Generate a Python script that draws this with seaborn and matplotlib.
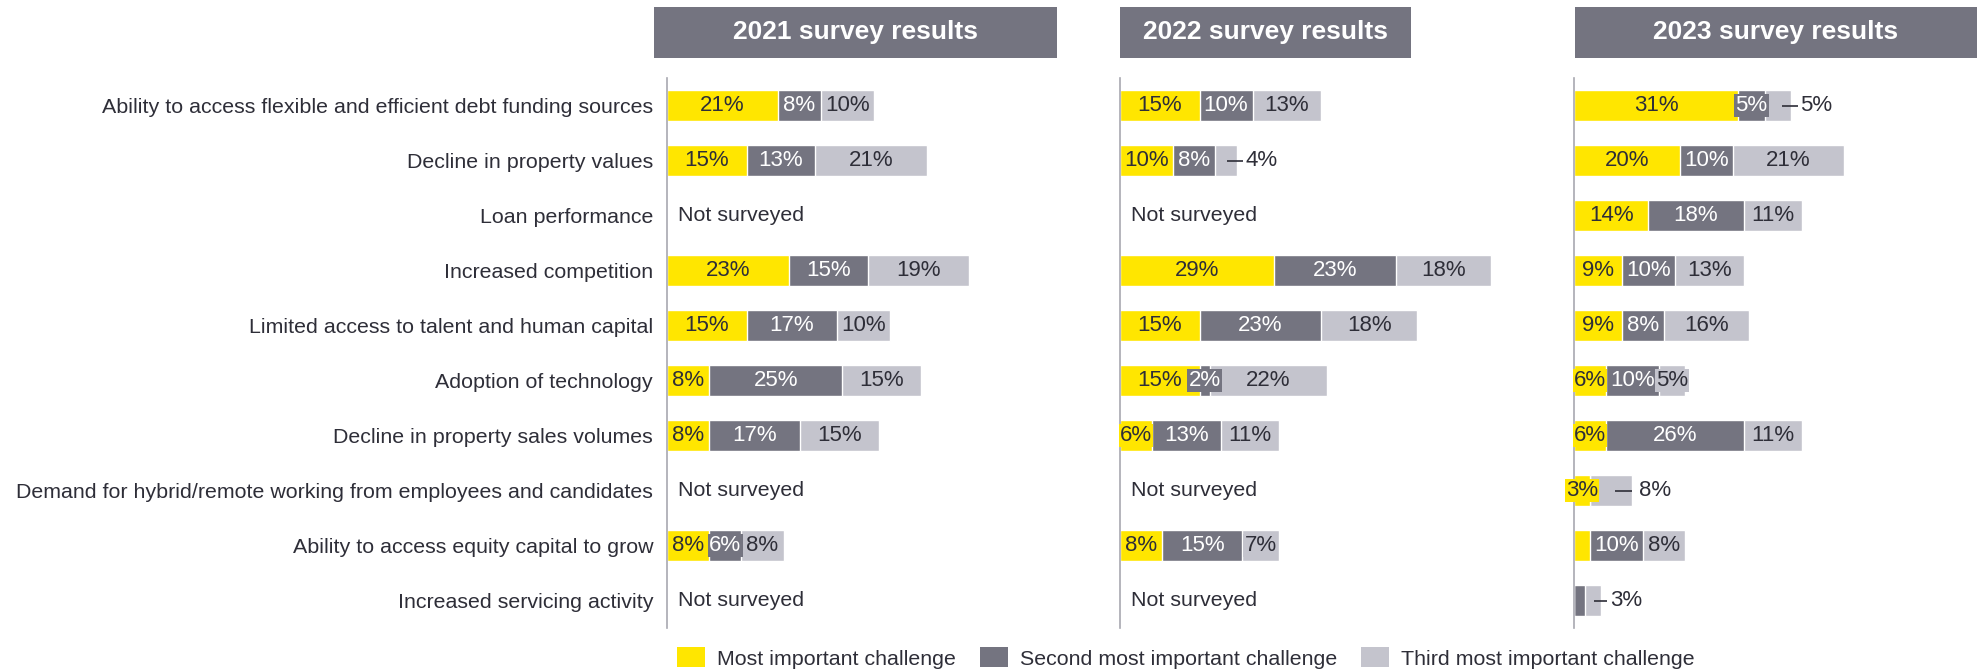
import numpy as np
import pandas as pd
import matplotlib
matplotlib.use("Agg")
import matplotlib.pyplot as plt
import seaborn as sns
from matplotlib.patches import Patch, Rectangle

# data
categories = [
    "Ability to access flexible and efficient debt funding sources",
    "Decline in property values",
    "Loan performance",
    "Increased competition",
    "Limited access to talent and human capital",
    "Adoption of technology",
    "Decline in property sales volumes",
    "Demand for hybrid/remote working from employees and candidates",
    "Ability to access equity capital to grow",
    "Increased servicing activity",
]
years = ["2021", "2022", "2023"]
series = ["Most important challenge", "Second most important challenge",
          "Third most important challenge"]

nan = np.nan
most_2021 = [21, 15, nan, 23, 15, 8, 8, nan, 8, nan]
second_2021 = [8, 13, nan, 15, 17, 25, 17, nan, 6, nan]
third_2021 = [10, 21, nan, 19, 10, 15, 15, nan, 8, nan]

most_2022 = [15, 10, nan, 29, 15, 15, 6, nan, 8, nan]
second_2022 = [10, 8, nan, 23, 23, 2, 13, nan, 15, nan]
third_2022 = [13, 4, nan, 18, 18, 22, 11, nan, 7, nan]

most_2023 = [31, 20, 14, 9, 9, 6, 6, 3, 3, 0]
second_2023 = [5, 10, 18, 10, 8, 10, 26, 0, 10, 2]
third_2023 = [5, 21, 11, 13, 16, 5, 11, 8, 8, 3]

values = {
    "2021": [most_2021, second_2021, third_2021],
    "2022": [most_2022, second_2022, third_2022],
    "2023": [most_2023, second_2023, third_2023],
}

# labels drawn outside with a leader line (line start, line end, text offset)
outside_labels = {
    ("2022", 1, 2): (-1.8, 1.3, 1.7),
    ("2023", 0, 2): (-1.8, 1.3, 1.7),
    ("2023", 7, 2): (-3.2, 0.0, 1.3),
    ("2023", 9, 2): (-1.2, 1.3, 1.9),
}
hidden_labels = {("2023", 8, 0), ("2023", 9, 1)}

colors = ["#FFE600", "#747480", "#C4C4CD"]
label_colors = ["#2E2E38", "#FFFFFF", "#2E2E38"]
text_dark = "#2E2E38"

rows = []
for year in years:
    for i, cat in enumerate(categories):
        cum = 0
        for s, name in enumerate(series):
            v = values[year][s][i]
            if np.isnan(v):
                continue
            cum += v
            rows.append(dict(year=year, category=cat, row=i, series=s,
                             value=v, cum=cum))
df = pd.DataFrame(rows)

sns.set_style("white")
plt.rcParams["font.family"] = ["Liberation Sans", "DejaVu Sans"]

W, H = 1980, 670
fig = plt.figure(figsize=(W / 100, H / 100), dpi=100)

px_per_pct = 5.3
panel_left = {"2021": 667, "2022": 1120, "2023": 1574}
panel_right = {"2021": 1110, "2022": 1565, "2023": 1980}
header_span = {"2021": (654, 1057), "2022": (1120, 1411), "2023": (1575, 1977)}
ax_top, ax_bottom = 78, 628

for year in years:
    left = panel_left[year]
    width = panel_right[year] - left
    ax = fig.add_axes([left / W, 1 - ax_bottom / H, width / W,
                       (ax_bottom - ax_top) / H])
    ax.patch.set_alpha(0)
    d = df[df.year == year]

    # stacked bars: draw cumulative totals back to front
    for s in [2, 1, 0]:
        ds = d[d.series == s]
        sns.barplot(data=ds, y="category", x="cum", order=categories,
                    color=colors[s], saturation=1, width=0.56,
                    orient="h", errorbar=None, ax=ax)

    for _, r in d.iterrows():
        i, s, v = r["row"], r["series"], r["value"]
        if v <= 0 or (year, i, s) in hidden_labels:
            continue
        if (year, i, s) in outside_labels:
            a, b, t = outside_labels[(year, i, s)]
            ax.plot([r["cum"] + a, r["cum"] + b], [i, i], color=text_dark,
                    lw=1.2, solid_capstyle="butt")
            ax.text(r["cum"] + t, i, f"{v:.0f}%", ha="left", va="center",
                    fontsize=16, color=text_dark)
            continue
        ax.text(r["cum"] - v / 2, i, f"{v:.0f}%", ha="center", va="center",
                fontsize=16, color=label_colors[s],
                bbox=dict(boxstyle="square,pad=0.06", fc=colors[s], ec="none"))

    for i in range(len(categories)):
        if np.isnan(values[year][0][i]):
            ax.text(2.1, i, "Not surveyed", ha="left", va="center",
                    fontsize=15.4, color=text_dark)

    ax.set_xlim(0, width / px_per_pct)
    ax.set_ylim(len(categories) - 0.5, -0.5)
    ax.set_xlabel("")
    ax.set_ylabel("")
    ax.set_xticks([])
    ax.tick_params(axis="y", length=0, pad=10, labelsize=15.4,
                   labelcolor=text_dark)
    if year != "2021":
        ax.set_yticklabels([])
    for side in ["top", "right", "bottom"]:
        ax.spines[side].set_visible(False)
    ax.spines["left"].set_color("#A8A8B0")
    ax.spines["left"].set_linewidth(1.2)

    # header box above each panel
    x0, x1 = header_span[year]
    fig.add_artist(Rectangle((x0 / W, 1 - 58 / H), (x1 - x0) / W, 51 / H,
                             transform=fig.transFigure, fc="#747480", ec="none"))
    fig.text((x0 + x1) / 2 / W, 1 - 32.5 / H, f"{year} survey results",
             ha="center", va="center", fontsize=19, fontweight="bold",
             color="white")

handles = [Patch(fc=c, ec="none", label=s) for c, s in zip(colors, series)]
fig.legend(handles=handles, loc="center", bbox_to_anchor=(1186 / W, 1 - 658 / H),
           ncol=3, frameon=False, fontsize=15.4, handlelength=1.3,
           handleheight=1.05, handletextpad=0.58, columnspacing=1.1,
           borderpad=0, labelcolor=text_dark)

fig.savefig("out.png", dpi=100)
